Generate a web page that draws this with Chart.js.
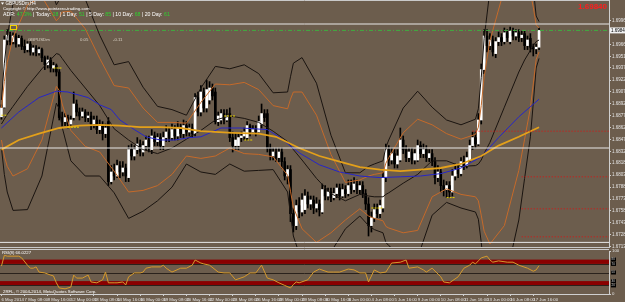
<!DOCTYPE html>
<html><head><meta charset="utf-8">
<script src="https://cdn.jsdelivr.net/npm/chart.js@4.4.1/dist/chart.umd.min.js"></script>
<style>
html,body{margin:0;padding:0;background:#6c5d4d;overflow:hidden;width:625px;height:302px;}
#main{position:absolute;left:0;top:0;}
#rsi{position:absolute;left:0;top:249px;}
</style></head>
<body>
<canvas id="main" width="625" height="248"></canvas>
<canvas id="rsi" width="625" height="53"></canvas>
<script>
// ---------------- DATA (GBPUSDm, H4) ----------------
const xTickIdx = [0,8,16,24,32,40,48,56,64,72,80,88,96,104,112,120,128,136,144,152,160,168,176,184];
const xTickLabels = ['6 May 2014','7 May 08:00','8 May 16:00','12 May 00:00','13 May 08:00','14 May 16:00','16 May 00:00','19 May 08:00','20 May 16:00','22 May 00:00','23 May 08:00','26 May 16:00','28 May 00:00','29 May 08:00','30 May 16:00','3 Jun 00:00','4 Jun 08:00','5 Jun 16:00','9 Jun 00:00','10 Jun 08:00','11 Jun 16:00','13 Jun 00:00','16 Jun 08:00','17 Jun 16:00'];
const yTickVals = [1.69965,1.69665,1.69515,1.69370,1.69220,1.69070,1.68920,1.68775,1.68625,1.68475,1.68325,1.68180,1.68030,1.67880,1.67730,1.67585,1.67435,1.67285,1.67135];

const opens = [
1.6876,1.6888,1.6972,1.6978,1.6970,1.6977,1.6967,1.6974,1.6964,1.6960,
1.6967,1.6957,1.6962,1.6956,1.6960,1.6950,1.6941,1.6947,1.6937,1.6940,
1.6932,1.6875,1.6870,1.6875,1.6867,1.6875,1.6892,1.6882,1.6877,1.6882,
1.6875,1.6877,1.6867,1.6872,1.6860,1.6865,1.6855,1.6870,1.6795,1.6807,
1.6802,1.6815,1.6807,1.6812,1.6800,1.6835,1.6827,1.6835,1.6842,1.6832,
1.6840,1.6847,1.6835,1.6852,1.6845,1.6850,1.6840,1.6850,1.6857,1.6850,
1.6860,1.6852,1.6862,1.6855,1.6865,1.6857,1.6862,1.6855,1.6900,1.6882,
1.6907,1.6887,1.6897,1.6912,1.6907,1.6870,1.6872,1.6880,1.6872,1.6880,
1.6850,1.6840,1.6840,1.6850,1.6852,1.6850,1.6865,1.6857,1.6860,1.6857,
1.6867,1.6880,1.6880,1.6837,1.6827,1.6832,1.6825,1.6832,1.6820,1.6802,
1.6810,1.6755,1.6740,1.6765,1.6757,1.6760,1.6777,1.6767,1.6772,1.6762,
1.6767,1.6757,1.6785,1.6777,1.6782,1.6775,1.6780,1.6787,1.6777,1.6785,
1.6780,1.6790,1.6785,1.6792,1.6785,1.6790,1.6780,1.6767,1.6740,1.6750,
1.6760,1.6755,1.6762,1.6800,1.6835,1.6822,1.6830,1.6817,1.6822,1.6847,
1.6835,1.6825,1.6832,1.6822,1.6822,1.6840,1.6830,1.6835,1.6825,1.6830,
1.6820,1.6800,1.6807,1.6790,1.6785,1.6790,1.6782,1.6802,1.6810,1.6805,
1.6820,1.6815,1.6822,1.6840,1.6850,1.6842,1.6872,1.6935,1.6977,1.6965,
1.6972,1.6955,1.6970,1.6975,1.6970,1.6981,1.6970,1.6983,1.6977,1.6981,
1.6975,1.6980,1.6965,1.6974,1.6963,1.6961,1.6963];
const highs = [
1.6891,1.6977,1.6985,1.6982,1.6981,1.6980,1.6978,1.6977,1.6972,1.6970,
1.6970,1.6965,1.6965,1.6963,1.6962,1.6952,1.6952,1.6950,1.6944,1.6942,
1.6935,1.6882,1.6880,1.6878,1.6877,1.6907,1.6897,1.6887,1.6887,1.6885,
1.6882,1.6882,1.6877,1.6877,1.6872,1.6870,1.6867,1.6875,1.6815,1.6817,
1.6822,1.6820,1.6820,1.6817,1.6840,1.6842,1.6840,1.6850,1.6847,1.6845,
1.6852,1.6852,1.6860,1.6857,1.6855,1.6855,1.6857,1.6865,1.6862,1.6867,
1.6865,1.6870,1.6867,1.6872,1.6870,1.6867,1.6867,1.6905,1.6907,1.6915,
1.6912,1.6922,1.6920,1.6917,1.6912,1.6882,1.6885,1.6885,1.6885,1.6887,
1.6857,1.6855,1.6855,1.6857,1.6862,1.6870,1.6867,1.6865,1.6865,1.6877,
1.6892,1.6885,1.6885,1.6842,1.6837,1.6837,1.6837,1.6837,1.6825,1.6815,
1.6815,1.6762,1.6772,1.6775,1.6780,1.6785,1.6782,1.6777,1.6777,1.6775,
1.6772,1.6792,1.6790,1.6787,1.6787,1.6787,1.6792,1.6792,1.6792,1.6790,
1.6797,1.6797,1.6800,1.6797,1.6795,1.6795,1.6785,1.6775,1.6757,1.6767,
1.6767,1.6772,1.6807,1.6842,1.6840,1.6837,1.6835,1.6835,1.6862,1.6852,
1.6840,1.6837,1.6837,1.6835,1.6847,1.6845,1.6842,1.6840,1.6835,1.6835,
1.6825,1.6815,1.6812,1.6797,1.6795,1.6795,1.6810,1.6817,1.6817,1.6825,
1.6827,1.6832,1.6847,1.6857,1.6857,1.6880,1.6942,1.6985,1.6985,1.6980,
1.6977,1.6975,1.6982,1.6980,1.6987,1.6985,1.6988,1.6987,1.6985,1.6985,
1.6983,1.6983,1.6977,1.6980,1.6967,1.6967,1.6987];
const lows = [
1.6873,1.6887,1.6966,1.6966,1.6967,1.6963,1.6964,1.6960,1.6956,1.6957,
1.6953,1.6953,1.6952,1.6953,1.6945,1.6935,1.6937,1.6932,1.6932,1.6927,
1.6872,1.6865,1.6865,1.6862,1.6865,1.6872,1.6877,1.6872,1.6875,1.6870,
1.6870,1.6860,1.6862,1.6855,1.6855,1.6847,1.6850,1.6790,1.6792,1.6797,
1.6800,1.6800,1.6802,1.6795,1.6795,1.6822,1.6822,1.6830,1.6827,1.6827,
1.6835,1.6832,1.6830,1.6840,1.6840,1.6835,1.6835,1.6845,1.6845,1.6847,
1.6847,1.6847,1.6850,1.6850,1.6852,1.6852,1.6850,1.6852,1.6877,1.6877,
1.6882,1.6882,1.6892,1.6897,1.6867,1.6865,1.6867,1.6867,1.6870,1.6845,
1.6832,1.6835,1.6835,1.6845,1.6847,1.6847,1.6852,1.6855,1.6852,1.6855,
1.6862,1.6870,1.6832,1.6822,1.6822,1.6820,1.6820,1.6812,1.6797,1.6792,
1.6745,1.6732,1.6735,1.6750,1.6752,1.6755,1.6762,1.6760,1.6755,1.6757,
1.6752,1.6755,1.6772,1.6772,1.6770,1.6772,1.6775,1.6772,1.6775,1.6775,
1.6777,1.6780,1.6782,1.6780,1.6780,1.6775,1.6760,1.6727,1.6732,1.6745,
1.6750,1.6750,1.6757,1.6795,1.6815,1.6817,1.6812,1.6812,1.6820,1.6830,
1.6820,1.6820,1.6817,1.6817,1.6820,1.6825,1.6825,1.6820,1.6820,1.6815,
1.6792,1.6795,1.6782,1.6777,1.6775,1.6775,1.6777,1.6797,1.6800,1.6802,
1.6810,1.6812,1.6820,1.6835,1.6837,1.6840,1.6867,1.6930,1.6957,1.6960,
1.6952,1.6950,1.6965,1.6965,1.6967,1.6970,1.6967,1.6972,1.6972,1.6970,
1.6970,1.6960,1.6960,1.6957,1.6952,1.6955,1.6960];
const closes = [
1.6887,1.6972,1.6978,1.6970,1.6977,1.6967,1.6974,1.6964,1.6960,1.6967,
1.6957,1.6962,1.6956,1.6960,1.6950,1.6941,1.6947,1.6937,1.6940,1.6932,
1.6875,1.6870,1.6875,1.6867,1.6872,1.6892,1.6882,1.6877,1.6882,1.6875,
1.6877,1.6867,1.6872,1.6860,1.6865,1.6855,1.6862,1.6795,1.6807,1.6802,
1.6815,1.6807,1.6812,1.6802,1.6835,1.6827,1.6835,1.6842,1.6832,1.6840,
1.6847,1.6837,1.6852,1.6845,1.6850,1.6840,1.6850,1.6857,1.6850,1.6860,
1.6852,1.6862,1.6855,1.6865,1.6857,1.6862,1.6855,1.6900,1.6882,1.6907,
1.6887,1.6910,1.6912,1.6902,1.6870,1.6877,1.6880,1.6872,1.6877,1.6850,
1.6840,1.6847,1.6850,1.6852,1.6857,1.6865,1.6857,1.6860,1.6857,1.6870,
1.6880,1.6875,1.6837,1.6827,1.6832,1.6825,1.6832,1.6820,1.6802,1.6810,
1.6755,1.6740,1.6765,1.6757,1.6772,1.6777,1.6767,1.6772,1.6762,1.6767,
1.6760,1.6785,1.6777,1.6782,1.6775,1.6780,1.6787,1.6777,1.6785,1.6780,
1.6790,1.6785,1.6792,1.6785,1.6790,1.6780,1.6767,1.6740,1.6750,1.6760,
1.6755,1.6765,1.6800,1.6835,1.6822,1.6830,1.6817,1.6827,1.6847,1.6835,
1.6825,1.6832,1.6822,1.6830,1.6840,1.6830,1.6835,1.6825,1.6830,1.6820,
1.6800,1.6807,1.6790,1.6785,1.6790,1.6782,1.6802,1.6810,1.6805,1.6820,
1.6815,1.6825,1.6840,1.6850,1.6842,1.6872,1.6935,1.6977,1.6965,1.6972,
1.6957,1.6970,1.6975,1.6970,1.6981,1.6975,1.6983,1.6977,1.6981,1.6975,
1.6978,1.6965,1.6972,1.6963,1.6961,1.6963,1.6984];

// Bollinger bands (black = outer, orange = inner, black middle)
const bandIdx = [0,1,2,4,9,14,19,20,21,24,29,34,39,44,49,54,59,64,69,74,79,84,89,94,99,100,101,104,109,114,119,124,127,129,132,133,134,139,144,149,154,159,164,165,166,167,169,174,179,181,183,184,185,186];
const bbMid = [1.6867,1.6873,1.6879,1.6889,1.6914,1.6936,1.6955,1.6954,1.6949,1.6934,1.6912,1.6890,1.6861,1.6847,1.6835,1.6830,1.6837,1.6848,1.6859,1.6872,1.6877,1.6874,1.6869,1.6858,1.6845,1.6840,1.6835,1.6822,1.6799,1.6780,1.6771,1.6779,1.6777,1.6776,1.6776,1.6779,1.6781,1.6793,1.6804,1.6821,1.6821,1.6814,1.6815,1.6817,1.6822,1.6830,1.6844,1.6888,1.6932,1.6947,1.6959,1.6965,1.6970,1.6972];
const bbUpInner = [1.6887,1.6920,1.6944,1.6975,1.7016,1.7026,1.6996,1.7000,1.7007,1.7008,1.6986,1.6949,1.6915,1.6912,1.6887,1.6869,1.6869,1.6868,1.6894,1.6917,1.6916,1.6919,1.6910,1.6890,1.6886,1.6898,1.6907,1.6907,1.6878,1.6829,1.6794,1.6797,1.6802,1.6804,1.6806,1.6818,1.6825,1.6856,1.6873,1.6866,1.6855,1.6848,1.6854,1.6863,1.6890,1.6926,1.6971,1.7036,1.7055,1.7046,1.7031,1.7013,1.6991,1.6987];
const bbUpOuter = [1.6897,1.6943,1.6976,1.7018,1.7067,1.7071,1.7016,1.7022,1.7035,1.7046,1.7023,1.6978,1.6941,1.6945,1.6913,1.6889,1.6885,1.6878,1.6912,1.6939,1.6936,1.6941,1.6930,1.6906,1.6907,1.6926,1.6943,1.6950,1.6918,1.6853,1.6806,1.6806,1.6814,1.6817,1.6821,1.6838,1.6847,1.6887,1.6908,1.6888,1.6872,1.6866,1.6873,1.6886,1.6925,1.6974,1.7034,1.7110,1.7116,1.7095,1.7067,1.7037,1.7002,1.6995];
const bbLoInner = [1.6847,1.6827,1.6814,1.6802,1.6811,1.6847,1.6914,1.6909,1.6892,1.6859,1.6839,1.6832,1.6808,1.6782,1.6784,1.6790,1.6804,1.6827,1.6824,1.6827,1.6837,1.6830,1.6829,1.6826,1.6803,1.6783,1.6763,1.6736,1.6719,1.6731,1.6747,1.6761,1.6752,1.6749,1.6746,1.6739,1.6737,1.6731,1.6734,1.6776,1.6786,1.6779,1.6776,1.6771,1.6753,1.6733,1.6717,1.6740,1.6809,1.6848,1.6887,1.6917,1.6948,1.6957];
const bbLoOuter = [1.6837,1.6804,1.6782,1.6759,1.6760,1.6802,1.6893,1.6886,1.6863,1.6821,1.6802,1.6802,1.6781,1.6749,1.6758,1.6771,1.6788,1.6817,1.6807,1.6804,1.6817,1.6808,1.6809,1.6810,1.6782,1.6754,1.6727,1.6694,1.6679,1.6707,1.6736,1.6752,1.6740,1.6735,1.6731,1.6719,1.6715,1.6700,1.6700,1.6753,1.6769,1.6762,1.6757,1.6748,1.6719,1.6685,1.6653,1.6666,1.6747,1.6799,1.6851,1.6893,1.6937,1.6949];

// Moving averages
const blueIdx = [0,6,13,19,23,30,34,38,41,46,50,55,60,65,69,76,83,92,96,103,110,117,124,131,138,145,152,159,166,172,179,186];
const blueMA = [1.6862,1.6882,1.6900,1.6908,1.6907,1.6900,1.6891,1.6885,1.6872,1.6860,1.6851,1.6847,1.6847,1.6850,1.6851,1.6862,1.6862,1.6860,1.6851,1.6831,1.6816,1.6807,1.6802,1.6800,1.6801,1.6802,1.6805,1.6812,1.6826,1.6850,1.6876,1.6898];
const goldIdx = [0,6,13,20,27,34,41,48,55,62,69,80,89,95,103,110,117,124,131,138,145,152,159,166,172,179,186];
const goldMA = [1.6835,1.6847,1.6855,1.6862,1.6865,1.6866,1.6865,1.6863,1.6863,1.6862,1.6858,1.6856,1.6855,1.6851,1.6837,1.6827,1.6820,1.6813,1.6810,1.6808,1.6810,1.6812,1.6817,1.6827,1.6840,1.6851,1.6863];

// Horizontal levels
const whiteLevels = [1.6992, 1.6837, 1.6719];
const currentPrice = 1.69840;
const redLevels = [1.6858, 1.6801, 1.6761, 1.6726];
const redFrom = [163, 180, 180, 180];

// Short yellow dashed markers: start bar, end bar, price
const markFrom = [0, 18, 23, 77, 84, 128, 154];
const markTo = [2, 21, 27, 81, 87, 132, 157];
const markPrice = [1.6878, 1.6937, 1.6863, 1.6877, 1.6847, 1.6762, 1.6775];

// RSI(8)
const rsiIdx = [0,1,2,4,6,7,9,10,11,12,13,15,17,18,19,20,22,24,25,26,28,30,31,33,35,36,37,39,40,42,43,44,46,48,49,50,52,55,56,57,59,62,64,66,67,69,70,72,75,77,79,81,84,86,88,90,92,94,96,98,100,101,102,103,106,108,110,113,115,117,120,122,124,126,127,129,131,133,135,138,140,141,144,146,147,149,152,153,155,158,160,162,163,164,165,166,168,169,170,172,175,177,179,182,184,185,186];
const rsiVal = [65,90,88,88,88,84,67,60,60,63,51,49,44,42,26,14,12,16,44,37,37,44,28,26,33,51,26,26,26,28,21,40,49,49,51,60,63,63,67,60,51,60,60,67,79,72,70,67,51,49,49,33,40,49,49,67,37,33,26,20,14,22,28,26,33,51,58,51,51,51,58,56,49,49,28,56,49,51,72,74,79,60,63,56,51,60,40,28,26,40,60,67,74,70,77,84,88,79,74,77,74,74,67,60,53,56,66];
const rsiBands = [[70,80],[20,30]];
const rsiLevels = [70,50,20];
const rsiBoxes = [80,70,50,30,20];

// ---------------- CHART ----------------
const X_MIN = -0.5, X_MAX = 210.2;
const P_MIN = 1.6712, P_MAX = 1.7022;
const FONT = '"Liberation Sans", Arial, sans-serif';
Chart.defaults.font.family = FONT;
Chart.defaults.animation = false;

const pts = (idx, vals) => idx.map((x, k) => ({x, y: vals[k]}));
const lineDs = (data, color, width, extra) => Object.assign({type:'line', data, borderColor:color, borderWidth:width, pointRadius:0, tension:0, fill:false, order:1}, extra||{});

const datasets = [];
datasets.push({type:'bar', data: highs.map((h,i)=>({x:i, y:[lows[i], h]})), backgroundColor:'#000', barThickness:1, grouped:false, order:6});
datasets.push({type:'bar', data: closes.map((c,i)=>({x:i, y:[opens[i], c]})), backgroundColor: closes.map((c,i)=> c>=opens[i] ? '#ffffff' : '#000000'), barThickness:2, grouped:false, minBarLength:1, order:5});
datasets.push(lineDs(pts(goldIdx, goldMA), '#e3a01a', 1.8));
datasets.push(lineDs(pts(blueIdx, blueMA), '#2626c8', 1));
datasets.push(lineDs(pts(bandIdx, bbMid), '#1a1410', 1));
datasets.push(lineDs(pts(bandIdx, bbUpInner), '#c56a2a', 1));
datasets.push(lineDs(pts(bandIdx, bbLoInner), '#c56a2a', 1));
datasets.push(lineDs(pts(bandIdx, bbUpOuter), '#1a1410', 1));
datasets.push(lineDs(pts(bandIdx, bbLoOuter), '#1a1410', 1));
markPrice.forEach((v,k) => datasets.push(lineDs([{x:markFrom[k],y:v},{x:markTo[k],y:v}], '#e8d400', 1, {order:0, borderDash:[2,1]})));
whiteLevels.forEach(v => datasets.push(lineDs([{x:X_MIN,y:v},{x:X_MAX,y:v}], '#e8e8e8', 1, {order:0})));
datasets.push(lineDs([{x:X_MIN,y:currentPrice},{x:X_MAX,y:currentPrice}], '#3fae3f', 1, {order:0, borderDash:[4,2,1,2]}));
redLevels.forEach((v,k) => datasets.push(lineDs([{x:redFrom[k],y:v},{x:X_MAX,y:v}], '#e01010', 1, {order:0, borderDash:[1,2]})));

const mainDecor = {
  id:'mainDecor',
  afterDraw(chart){
    const {ctx, chartArea:a, scales:{y}} = chart;
    ctx.save();
    ctx.strokeStyle = '#c9c9c9'; ctx.lineWidth = 1;
    ctx.beginPath(); ctx.moveTo(0,0.5); ctx.lineTo(a.right,0.5);
    ctx.moveTo(0,a.bottom-0.5); ctx.lineTo(a.right,a.bottom-0.5); ctx.stroke();
    ctx.textBaseline = 'middle'; ctx.textAlign = 'left';
    ctx.fillStyle = '#ffffff';
    ctx.beginPath(); ctx.moveTo(1,2.5); ctx.lineTo(4,2.5); ctx.lineTo(2.5,4.8); ctx.closePath(); ctx.fill();
    ctx.font = '4.6px ' + FONT; ctx.fillText('GBPUSDm,H4', 5.5, 3.8);
    ctx.font = '4.3px ' + FONT; ctx.fillText('Copyright \u00a9 http://www.pointzero-trading.com', 3, 9);
    ctx.font = '5.2px ' + FONT;
    const G = '#2fd02f', W = '#ffffff';
    const parts = [['ADR: ',W],['47.3%',G],[' | Today: ',W],['28',G],[' | 1 Day: ',W],['51',G],[' | 5 Day: ',W],['85',G],[' | 10 Day: ',W],['68',G],[' | 20 Day: ',W],['61',G]];
    let x = 3;
    parts.forEach(([t,c]) => { ctx.fillStyle = c; ctx.fillText(t, x, 15); x += ctx.measureText(t).width; });
    ctx.strokeStyle = '#f0d000'; ctx.strokeRect(10.5, 25.5, 6, 4);
    ctx.fillStyle = '#d8d0c4'; ctx.font = '4.3px ' + FONT;
    ctx.fillText('GBPUSDm', 28, 40); ctx.fillText('0.05', 80, 40); ctx.fillText('-0.11', 113, 40);
    ctx.font = 'bold 8px ' + FONT; ctx.fillStyle = '#ff1c1c'; ctx.textAlign = 'right';
    ctx.fillText('1.69840', 607, 6.5);
    const py = y.getPixelForValue(currentPrice);
    ctx.fillStyle = '#f2f2f2'; ctx.fillRect(610, py-3, 15, 6);
    ctx.fillStyle = '#000'; ctx.font = '4.5px ' + FONT; ctx.textAlign = 'left';
    ctx.fillText('1.69840', 611, py);
    ctx.restore();
  }
};

new Chart(document.getElementById('main'), {
  type:'bar',
  data:{datasets},
  options:{
    responsive:false, devicePixelRatio:1, events:[],
    layout:{padding:0},
    plugins:{legend:{display:false}, tooltip:{enabled:false}},
    scales:{
      x:{type:'linear', min:X_MIN, max:X_MAX, offset:false, display:false},
      y:{type:'linear', position:'right', min:P_MIN, max:P_MAX,
         afterFit:s=>{s.width=16; s.paddingTop=0; s.paddingBottom=0;},
         afterBuildTicks:s=>{s.ticks = yTickVals.map(v=>({value:v}));},
         ticks:{autoSkip:false, font:{size:4.5}, color:'#e4e4e4', padding:1, callback:v=>Number(v).toFixed(5)},
         grid:{drawOnChartArea:false, tickLength:2, color:'#cfcfcf'},
         border:{color:'#cfcfcf'}}
    }
  },
  plugins:[mainDecor]
});

const rsiDecor = {
  id:'rsiDecor',
  beforeDatasetsDraw(chart){
    const {ctx, chartArea:a, scales:{y}} = chart;
    ctx.save();
    ctx.fillStyle = '#8a0000';
    rsiBands.forEach(([lo,hi]) => { const y1 = y.getPixelForValue(hi), y2 = y.getPixelForValue(lo); ctx.fillRect(a.left, y1, a.right-a.left, y2-y1); });
    ctx.strokeStyle = '#2a221c'; ctx.lineWidth = 1;
    rsiLevels.forEach(v => { const yy = Math.round(y.getPixelForValue(v)) + 0.5; ctx.beginPath(); ctx.moveTo(a.left,yy); ctx.lineTo(a.right,yy); ctx.stroke(); });
    ctx.restore();
  },
  afterDraw(chart){
    const {ctx, chartArea:a, scales:{y}} = chart;
    ctx.save();
    ctx.strokeStyle = '#c9c9c9'; ctx.lineWidth = 1;
    ctx.beginPath(); ctx.moveTo(0,0.5); ctx.lineTo(a.right,0.5); ctx.stroke();
    ctx.textBaseline = 'middle'; ctx.textAlign = 'left';
    ctx.fillStyle = '#ffffff'; ctx.font = '4.3px ' + FONT;
    ctx.fillText('RSI(8) 66.0227', 2, 3.5);
    ctx.fillText('2RFL, \u00a9 2004-2014, MetaQuotes Software Corp.', 3, 43);
    rsiBoxes.forEach(v => {
      const yy = y.getPixelForValue(v);
      ctx.fillStyle = '#000'; ctx.fillRect(611, yy-2, 5, 4);
      ctx.fillStyle = '#cfcfcf'; ctx.font = '3px ' + FONT; ctx.fillText(String(v), 611.5, yy);
    });
    ctx.restore();
  }
};

new Chart(document.getElementById('rsi'), {
  type:'line',
  data:{datasets:[{data:pts(rsiIdx, rsiVal), borderColor:'#d69a2c', borderWidth:1, pointRadius:0, tension:0, fill:false}]},
  options:{
    responsive:false, devicePixelRatio:1, events:[],
    layout:{padding:{top:2, left:0, right:0, bottom:0}},
    plugins:{legend:{display:false}, tooltip:{enabled:false}},
    scales:{
      x:{type:'linear', min:X_MIN, max:X_MAX, offset:false,
         afterFit:s=>{s.height=8; s.paddingLeft=0; s.paddingRight=0;},
         afterBuildTicks:s=>{s.ticks = xTickIdx.map(v=>({value:v}));},
         ticks:{autoSkip:false, maxRotation:0, minRotation:0, align:'start', font:{size:4.3}, color:'#e4e4e4', padding:1,
                callback:v=>xTickLabels[xTickIdx.indexOf(v)]},
         grid:{drawOnChartArea:false, tickLength:2, color:'#cfcfcf'},
         border:{color:'#cfcfcf'}},
      y:{type:'linear', position:'right', min:0, max:100,
         afterFit:s=>{s.width=16; s.paddingTop=0; s.paddingBottom=0;},
         afterBuildTicks:s=>{s.ticks=[{value:0},{value:100}];},
         ticks:{autoSkip:false, font:{size:4.3}, color:'#e4e4e4', padding:1},
         grid:{drawOnChartArea:false, tickLength:2, color:'#cfcfcf'},
         border:{color:'#cfcfcf'}}
    }
  },
  plugins:[rsiDecor]
});
</script>
</body></html>
